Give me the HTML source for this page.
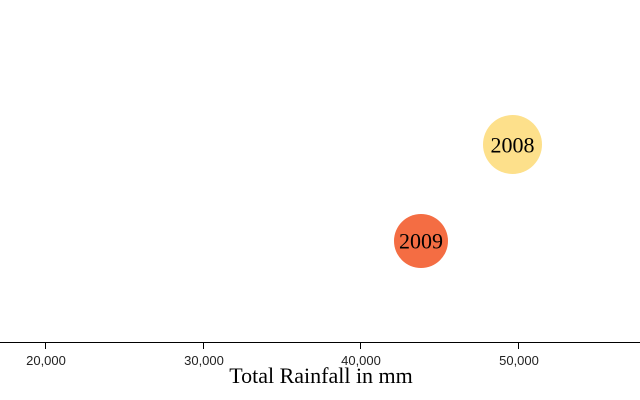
<!DOCTYPE html>
<html><head><style>body{margin:0;background:#fff}svg{display:block}</style></head><body>
<svg width="640" height="400" xmlns="http://www.w3.org/2000/svg">
<line x1="0" y1="342.5" x2="640" y2="342.5" stroke="#000" stroke-width="1"/>
<g stroke="#000" stroke-width="1">
<line x1="45.5" y1="342" x2="45.5" y2="349"/>
<line x1="203.5" y1="342" x2="203.5" y2="349"/>
<line x1="360.5" y1="342" x2="360.5" y2="349"/>
<line x1="518.5" y1="342" x2="518.5" y2="349"/>
</g>
<g font-family="Liberation Sans, sans-serif" font-size="13" fill="#222" text-anchor="middle">
<text x="46" y="365">20,000</text>
<text x="204" y="365">30,000</text>
<text x="361" y="365">40,000</text>
<text x="519" y="365">50,000</text>
</g>
<text x="321" y="383" font-family="Liberation Serif, serif" font-size="22" text-anchor="middle" fill="#000">Total Rainfall in mm</text>
<circle cx="512.5" cy="144.5" r="29.5" fill="#fde08b"/>
<circle cx="421" cy="241" r="27" fill="#f46d43"/>
<g font-family="Liberation Serif, serif" font-size="22" text-anchor="middle" fill="#000">
<text x="512.5" y="152.5">2008</text>
<text x="421" y="248.5">2009</text>
</g>
</svg>
</body></html>
